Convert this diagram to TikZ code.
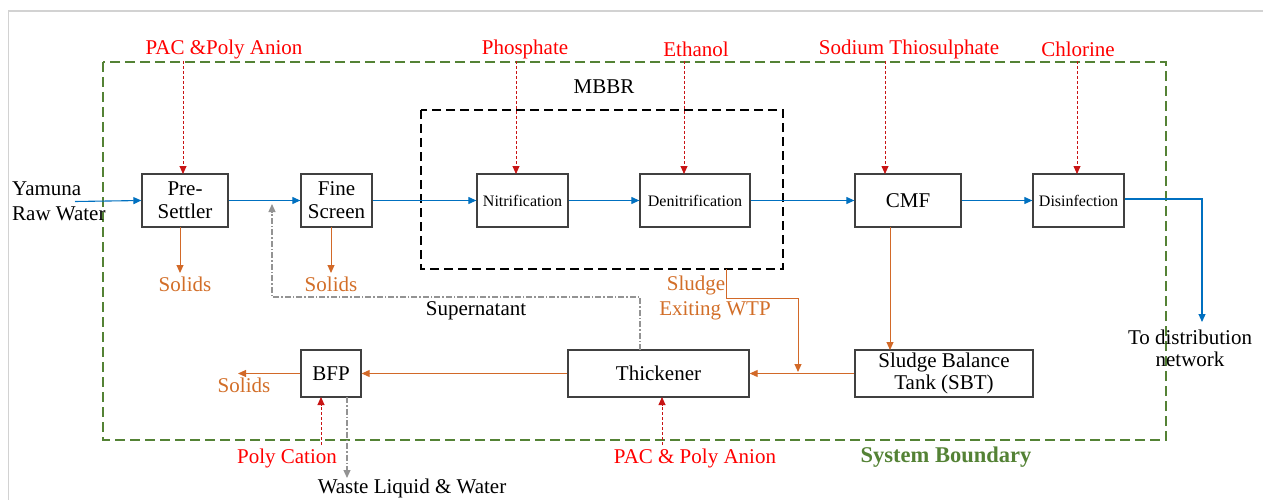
\documentclass[tikz,border=0pt]{standalone}
\usepackage{fontspec}
\setmainfont{Liberation Serif}
\usetikzlibrary{arrows.meta}
\definecolor{bnd}{RGB}{84,130,53}
\definecolor{flow}{RGB}{0,112,192}
\definecolor{chem}{RGB}{200,20,20}
\definecolor{chemtxt}{RGB}{255,0,0}
\definecolor{sl}{RGB}{210,105,40}
\definecolor{sltxt}{RGB}{210,110,40}
\definecolor{boxc}{RGB}{64,64,64}
\begin{document}
\begin{tikzpicture}[x=1pt,y=-1pt,
  every node/.style={font=\fontsize{21}{25}\selectfont, inner sep=0pt},
  proc/.style={draw=boxc, line width=1.3pt, fill=white, align=center},
  small/.style={font=\fontsize{16}{19}\selectfont},
  tip/.style={-{Triangle[length=8pt,width=7pt]}},
  flowline/.style={tip, draw=flow, line width=1.1pt},
  chemline/.style={tip, draw=chem, line width=0.9pt, dash pattern=on 3pt off 2pt},
  chemlabel/.style={text=chemtxt},
  sludge/.style={tip, draw=sl, line width=1pt},
  sludgelabel/.style={text=sltxt},
  grayline/.style={tip, draw=gray!85, line width=1.1pt, dash pattern=on 6pt off 2pt on 1.5pt off 2pt},
]
\useasboundingbox (0,0) rectangle (1263,500);
% screenshot frame
\draw[gray!35, line width=1.2pt] (8.5,500) -- (8.5,11) -- (1263,11);

% system boundary
\draw[bnd, line width=2pt, dash pattern=on 10pt off 5pt] (103,62) rectangle (1166,440);
\node[text=bnd, font=\fontsize{22.5}{26}\selectfont\bfseries] (sysb) at (946,457) {System Boundary};

% MBBR
\draw[black, line width=2pt, dash pattern=on 9pt off 5pt] (421,110) rectangle (783,269);
\coordinate (mbbrb) at (726,269);
\node (mbbr) at (604,87) {MBBR};

% process boxes
\node[proc, minimum width=86pt, minimum height=53pt] (pre) at (185,200.5) {Pre-\\[-2pt]Settler};
\node[proc, minimum width=71pt, minimum height=53pt] (fine) at (336.5,200.5) {Fine\\[-2pt]Screen};
\node[proc, small, minimum width=91pt, minimum height=53pt] (nit) at (522.5,200.5) {Nitrification};
\node[proc, small, minimum width=110pt, minimum height=53pt] (den) at (695,200.5) {Denitrification};
\node[proc, minimum width=106pt, minimum height=53pt] (cmf) at (908,200.5) {CMF};
\node[proc, small, minimum width=91pt, minimum height=53pt] (dis) at (1078.5,200.5) {Disinfection};
\node[proc, minimum width=60pt, minimum height=47pt] (bfp) at (331,373.5) {BFP};
\node[proc, minimum width=181pt, minimum height=47pt] (thk) at (658.5,373.5) {Thickener};
\node[proc, minimum width=178pt, minimum height=47pt] (sbt) at (944,373.5) {Sludge Balance\\[-3pt]Tank (SBT)};

% inflow / outflow labels
\node[align=left, anchor=west] (raw) at (12,201.5) {Yamuna\\[0pt]Raw Water};
\node[align=center] (dist) at (1190,348.5) {To distribution\\[-3pt]network};

% main flow
\coordinate (rawend) at (75,201.5);
\draw[flowline] (rawend) -- (pre.west);
\draw[flowline] (pre.east) -- (fine.west);
\draw[flowline] (fine.east) -- (nit.west);
\draw[flowline] (nit.east) -- (den.west);
\draw[flowline] (den.east) -- (cmf.west);
\draw[flowline] (cmf.east) -- (dis.west);
\draw[flowline] (dis.east |- 0,199) -- (1202,199) -- (1202,322);

% chemicals
\node[chemlabel] (c1) at (224,49) {PAC \&Poly Anion};
\node[chemlabel] (c2) at (525,49) {Phosphate};
\node[chemlabel] (c3) at (696,49) {Ethanol};
\node[chemlabel] (c4) at (909,49) {Sodium Thiosulphate};
\node[chemlabel] (c5) at (1078,49) {Chlorine};
\node[chemlabel] (c6) at (287,458) {Poly Cation};
\node[chemlabel] (c7) at (695,458) {PAC \& Poly Anion};
\draw[chemline] (183,61) -- (183,174);
\draw[chemline] (516,61) -- (516,174);
\draw[chemline] (684,61) -- (684,174);
\draw[chemline] (885,61) -- (885,174);
\draw[chemline] (1077,61) -- (1077,174);
\draw[chemline] (321,445) -- (321,397);
\draw[chemline] (662,445) -- (662,397);

% solids
\node[sludgelabel] (s1) at (185,284) {Solids};
\node[sludgelabel] (s2) at (331,284) {Solids};
\node[sludgelabel] (s3) at (244,385) {Solids};
\draw[sludge] (180,227) -- (180,273);
\draw[sludge] (331,227) -- (331,273);
\draw[sludge] (bfp.west) -- (238,373.5);

% sludge lines
\node[sludgelabel] (sl1) at (696,285) {Sludge};
\node[sludgelabel] (sl2) at (715,311) {Exiting WTP};
\draw[sludge] (mbbrb) -- (726,298) -- (798,298) -- (798,372);
\draw[sludge] (890,227) -- (890,350);
\draw[sludge] (sbt.west) -- (thk.east);
\draw[sludge] (thk.west) -- (bfp.east);

% supernatant / waste
\node (sup) at (476,311) {Supernatant};
\node (waste) at (412,488) {Waste Liquid \& Water};
\draw[grayline] (640,350) -- (640,297) -- (272,297) -- (272,204);
\draw[grayline] (347,397) -- (347,478);
\end{tikzpicture}
\end{document}
